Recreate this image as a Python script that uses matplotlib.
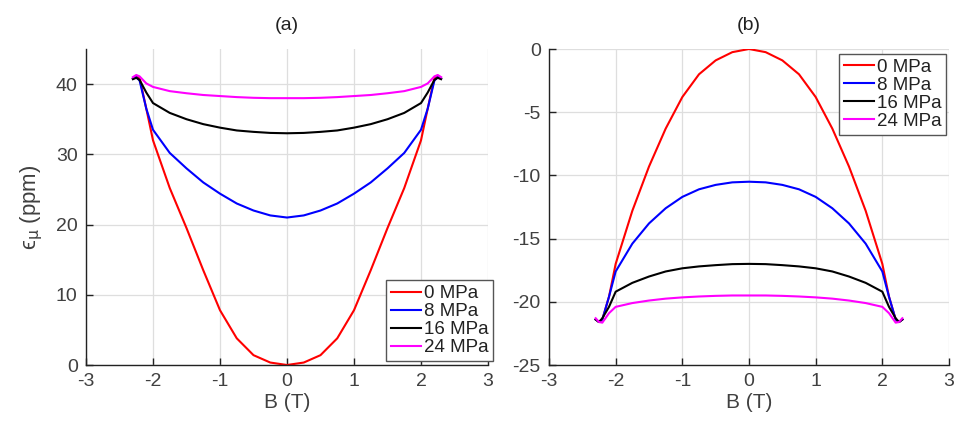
import numpy as np
import matplotlib
matplotlib.use('Agg')
import matplotlib.pyplot as plt

B = [-2.3, -2.25, -2.2, -2.1, -2.0, -1.75, -1.5, -1.25, -1.0, -0.75, -0.5, -0.25, 0.0,
     0.25, 0.5, 0.75, 1.0, 1.25, 1.5, 1.75, 2.0, 2.1, 2.2, 2.25, 2.3]

labels = ['0 MPa', '8 MPa', '16 MPa', '24 MPa']
colors = ['red', 'blue', 'black', 'magenta']

# panel (a)
red_a = [40.8, 41.1, 40.9, 36.5, 32.0, 25.2, 19.5, 13.5, 7.8, 3.8, 1.4, 0.35, 0.0,
         0.35, 1.4, 3.8, 7.8, 13.5, 19.5, 25.2, 32.0, 36.5, 40.9, 41.1, 40.8]
blue_a = [40.8, 41.0, 40.5, 36.5, 33.5, 30.2, 28.0, 26.0, 24.4, 23.0, 22.0, 21.3, 21.0,
          21.3, 22.0, 23.0, 24.4, 26.0, 28.0, 30.2, 33.5, 36.5, 40.5, 41.0, 40.8]
black_a = [40.7, 40.9, 40.6, 38.8, 37.3, 35.9, 35.0, 34.3, 33.8, 33.4, 33.2, 33.05, 33.0,
           33.05, 33.2, 33.4, 33.8, 34.3, 35.0, 35.9, 37.3, 38.8, 40.6, 40.9, 40.7]
mag_a = [41.0, 41.3, 41.1, 40.1, 39.6, 39.0, 38.7, 38.45, 38.3, 38.15, 38.05, 38.0, 38.0,
         38.0, 38.05, 38.15, 38.3, 38.45, 38.7, 39.0, 39.6, 40.1, 41.1, 41.3, 41.0]

# panel (b)
red_b = [-21.4, -21.6, -21.4, -19.6, -17.0, -12.8, -9.3, -6.3, -3.8, -2.0, -0.9, -0.25, 0.0,
         -0.25, -0.9, -2.0, -3.8, -6.3, -9.3, -12.8, -17.0, -19.6, -21.4, -21.6, -21.4]
blue_b = [-21.4, -21.6, -21.4, -19.6, -17.6, -15.4, -13.8, -12.6, -11.7, -11.1, -10.75, -10.55, -10.5,
          -10.55, -10.75, -11.1, -11.7, -12.6, -13.8, -15.4, -17.6, -19.6, -21.4, -21.6, -21.4]
black_b = [-21.4, -21.6, -21.3, -20.4, -19.2, -18.5, -18.0, -17.6, -17.35, -17.2, -17.1, -17.02, -17.0,
           -17.02, -17.1, -17.2, -17.35, -17.6, -18.0, -18.5, -19.2, -20.4, -21.3, -21.6, -21.4]
mag_b = [-21.3, -21.6, -21.65, -20.9, -20.4, -20.1, -19.9, -19.75, -19.65, -19.58, -19.53, -19.5, -19.5,
         -19.5, -19.53, -19.58, -19.65, -19.75, -19.9, -20.1, -20.4, -20.9, -21.65, -21.6, -21.3]

plt.rcParams['font.family'] = ['Liberation Sans', 'DejaVu Sans']
plt.rcParams['mathtext.fontset'] = 'dejavusans'
plt.rcParams['axes.unicode_minus'] = False

txt = '#404040'
fig = plt.figure(figsize=(9.55, 4.23), dpi=100)
ax1 = fig.add_axes([86/955, 1-365/423, 402/955, 316/423])
ax2 = fig.add_axes([549/955, 1-365/423, 400/955, 316/423])

for ax, series in ((ax1, [red_a, blue_a, black_a, mag_a]), (ax2, [red_b, blue_b, black_b, mag_b])):
    for y, c, l in zip(series, colors, labels):
        ax.plot(B, y, color=c, lw=1.5, label=l)
    ax.set_xlim(-3, 3)
    ax.set_xticks(range(-3, 4))
    ax.grid(True, color='#dedede', lw=0.9)
    ax.set_axisbelow(True)
    for s in ('top', 'right'):
        ax.spines[s].set_visible(False)
    for s in ('left', 'bottom'):
        ax.spines[s].set_color('#222222')
        ax.spines[s].set_linewidth(1.0)
    ax.tick_params(direction='in', length=5, width=1, colors='#222222',
                   labelcolor=txt, labelsize=14, pad=6)
    ax.set_xlabel('B (T)', fontsize=15, color=txt, labelpad=2)

ax1.set_ylim(0, 45)
ax1.set_yticks(range(0, 41, 10))
ax2.set_ylim(-25, 0)
ax2.set_yticks(range(-25, 1, 5))

ax1.set_title('(a)', fontsize=14, color='#222222', pad=14)
ax2.set_title('(b)', fontsize=14, color='#222222', pad=14)
ax1.set_ylabel('\u03f5$_{\\mathrm{\u03bc}}$ (ppm)', fontsize=16, color=txt, labelpad=8)

legkw = dict(fontsize=13.5, frameon=True, fancybox=False, framealpha=1,
             edgecolor='#555555', handlelength=1.6, handletextpad=0.15,
             labelspacing=0.05, borderpad=0.25, borderaxespad=0)
lg1 = ax1.legend(loc='lower right', bbox_to_anchor=(493/955, 1-361/423),
                 bbox_transform=fig.transFigure, **legkw)
lg2 = ax2.legend(loc='upper right', bbox_to_anchor=(946/955, 1-54/423),
                 bbox_transform=fig.transFigure, **legkw)
for lg in (lg1, lg2):
    lg.get_frame().set_linewidth(1.0)
    for t in lg.get_texts():
        t.set_color('#222222')

fig.savefig('out.png', dpi=100)
